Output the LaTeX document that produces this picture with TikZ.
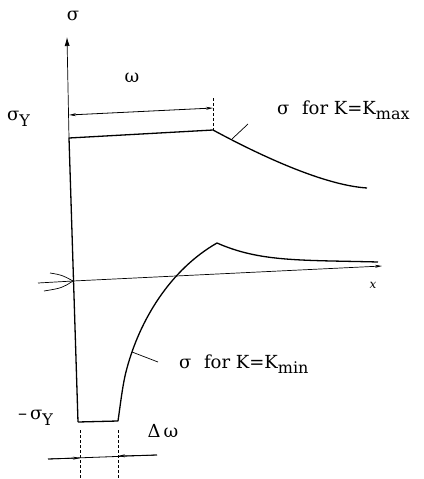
\documentclass[tikz,border=0pt]{standalone}
\usepackage{fontspec}
\setmainfont{DejaVu Serif}
\usetikzlibrary{arrows.meta}
\newcommand{\sbs}[1]{\raisebox{-0.3em}{\fontsize{16}{17}\selectfont #1}}
\begin{document}
\begin{tikzpicture}[x=1pt,y=-1pt,
  curve/.style={line width=1.3pt,line join=round},
  axis/.style={line width=0.7pt},
  dim/.style={line width=0.8pt},
  ext/.style={line width=0.5pt,densely dashed},
  lead/.style={line width=0.7pt},
  lbl/.style={font=\fontsize{18}{20}\selectfont,inner sep=0pt}]
\useasboundingbox (0,0) rectangle (423,479);
% coordinates
\coordinate (ytop) at (67,37);
\coordinate (A) at (69,138);
\coordinate (B) at (213,130);
\coordinate (C) at (367,188);
\coordinate (D) at (78,422);
\coordinate (E) at (118,421);
\coordinate (F) at (217,243);
\coordinate (G) at (378,262);
\coordinate (O) at (73,281);
\coordinate (xend) at (382,266);
% y axis
\draw[axis,-{Latex[length=9pt,width=5pt]}] (A) -- (ytop);
\node[lbl] (sig) at (73,16) {σ};
% x axis
\draw[axis,-{Stealth[length=7pt,width=3pt]}] (O) -- (xend);
\node[lbl,font=\fontsize{12}{14}\selectfont\itshape] (xl) at (373,285) {x};
% crack symbol
\coordinate (c1) at (38,283);
\coordinate (c2) at (50,273);
\coordinate (c3) at (44,291);
\draw[lead] (c1) -- (O);
\draw[lead] (c2) .. controls (62,275) .. (O);
\draw[lead] (c3) .. controls (62,288) .. (O);
% Kmax curve
\draw[curve] (D) -- (A) -- (B) .. controls (250,150) and (320,185) .. (C);
% Kmin curve
\draw[curve] (D) -- (E) .. controls (121,400) and (123,382) .. (127,368)
  .. controls (140,320) and (170,270) .. (F)
  .. controls (260,262) and (300,260) .. (G);
% omega dimension
\coordinate (w1) at (69,115);
\coordinate (w2) at (213,108);
\draw[ext] (213,98) -- (B);
\draw[dim,{Stealth[length=7pt,width=3pt]}-{Stealth[length=7pt,width=3pt]}] (w1) -- (w2);
\node[lbl] (om) at (132,78) {ω};
\node[lbl,anchor=west] (sy) at (7,119) {σ\sbs{Y}};
\node[lbl,anchor=west] (msy) at (18,418) {–\,σ\sbs{Y}};
% leaders and labels
\coordinate (l1) at (232,139);
\coordinate (l2) at (248,124);
\draw[lead] (l1) -- (l2);
\node[lbl,anchor=west] (kmax) at (277,110) {σ\hspace{0.7em}for K=K\sbs{max}};
\coordinate (l3) at (132,352);
\coordinate (l4) at (158,362);
\draw[lead] (l3) -- (l4);
\node[lbl,anchor=west] (kmin) at (179,364) {σ\hspace{0.7em}for K=K\sbs{min}};
% delta omega dimension
\draw[ext] (80,430) -- (80,478);
\draw[ext] (118,430) -- (118,478);
\coordinate (d1) at (48,459);
\coordinate (d2) at (157,455);
\coordinate (da) at (80,458);
\coordinate (db) at (118,456);
\draw[dim] (d1) -- (d2);
\draw[dim,-{Stealth[length=7pt,width=3pt]}] (d1) -- (da);
\draw[dim,-{Stealth[length=7pt,width=3pt]}] (d2) -- (db);
\node[lbl] (dw) at (163,431) {Δ\,ω};
\end{tikzpicture}
\end{document}
